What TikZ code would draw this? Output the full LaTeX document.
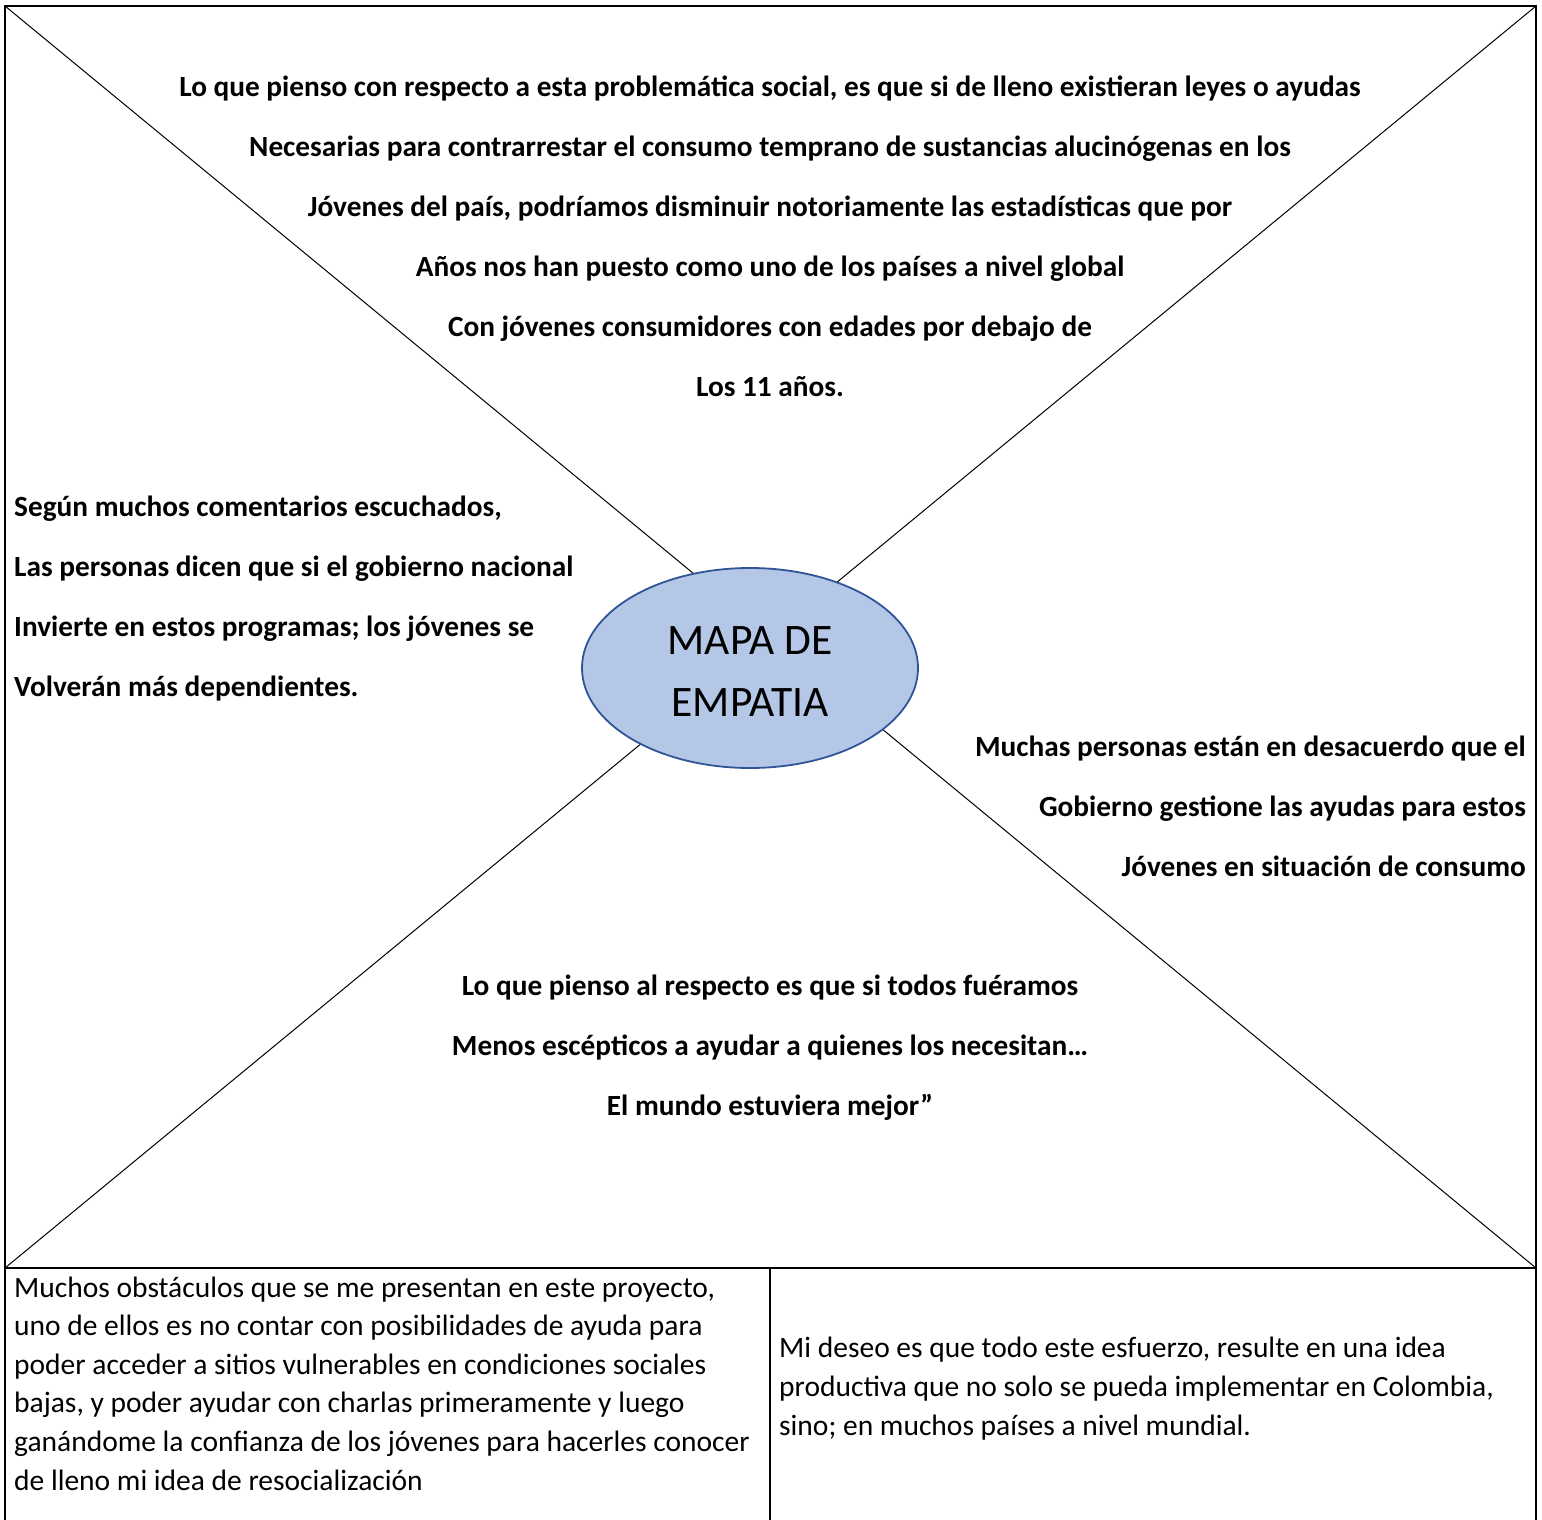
\documentclass[tikz,border=0pt]{standalone}
\usepackage{fontspec}
\setmainfont{Carlito}
\usetikzlibrary{shapes.geometric}
\definecolor{ellfill}{HTML}{B4C7E7}
\definecolor{elldraw}{HTML}{2F5597}
\tikzset{
  frame/.style={line width=2pt, black},
  diag/.style={line width=1pt, black},
  boldtxt/.style={inner sep=0pt, font=\fontsize{29.3}{60}\selectfont\bfseries},
  plaintxt/.style={inner sep=0pt, font=\fontsize{29.5}{38.6}\selectfont, align=left},
  hub/.style={ellipse, draw=elldraw, line width=1.8pt, fill=ellfill, minimum width=336pt, minimum height=200pt, inner sep=0pt},
  hubtext/.style={inner sep=0pt, align=center, font=\fontsize{43.5}{62}\selectfont}
}
\begin{document}
\begin{tikzpicture}[x=1pt,y=-1pt]
\useasboundingbox (0,0) rectangle (1542,1520);
\coordinate (tl) at (5,6);
\coordinate (tr) at (1536,6);
\coordinate (ml) at (5,1268);
\coordinate (mr) at (1536,1268);
\coordinate (bl) at (5,1520);
\coordinate (br) at (1536,1520);
\coordinate (mt) at (770,1268);
\coordinate (mb) at (770,1520);
% frame
\draw[frame] (bl) -- (tl) -- (tr) -- (br);
\draw[frame] (ml) -- (mr);
\draw[frame] (mt) -- (mb);
% diagonals
\draw[diag] (tl) -- (mr);
\draw[diag] (tr) -- (ml);
% centre
\node[hub] (hub) at (750,668) {};
\node[hubtext] (hubtxt) at ([yshift=-4pt]hub.center) {MAPA DE\\EMPATIA};
% texts (anchor base = baseline of the last line)
\node[boldtxt, align=center, anchor=base] (top) at (770,396) {Lo que pienso con respecto a esta problemática social, es que si de lleno existieran leyes o ayudas\\Necesarias para contrarrestar el consumo temprano de sustancias alucinógenas en los\\Jóvenes del país, podríamos disminuir notoriamente las estadísticas que por\\Años nos han puesto como uno de los países a nivel global\\Con jóvenes consumidores con edades por debajo de\\Los 11 años.};
\node[boldtxt, align=left, anchor=base west] (left) at (14,696) {Según muchos comentarios escuchados,\\Las personas dicen que si el gobierno nacional\\Invierte en estos programas; los jóvenes se\\Volverán más dependientes.};
\node[boldtxt, align=right, anchor=base east] (right) at (1526,876) {Muchas personas están en desacuerdo que el\\Gobierno gestione las ayudas para estos\\Jóvenes en situación de consumo};
\node[boldtxt, align=center, anchor=base] (bottom) at (770,1115) {Lo que pienso al respecto es que si todos fuéramos\\Menos escépticos a ayudar a quienes los necesitan…\\El mundo estuviera mejor”};
\node[plaintxt, anchor=base west] (obst) at (14,1490) {Muchos obstáculos que se me presentan en este proyecto,\\uno de ellos es no contar con posibilidades de ayuda para\\poder acceder a sitios vulnerables en condiciones sociales\\bajas, y poder ayudar con charlas primeramente y luego\\ganándome la confianza de los jóvenes para hacerles conocer\\de lleno mi idea de resocialización};
\node[plaintxt, anchor=base west] (wish) at (779,1435) {Mi deseo es que todo este esfuerzo, resulte en una idea\\productiva que no solo se pueda implementar en Colombia,\\sino; en muchos países a nivel mundial.};
\end{tikzpicture}
\end{document}
